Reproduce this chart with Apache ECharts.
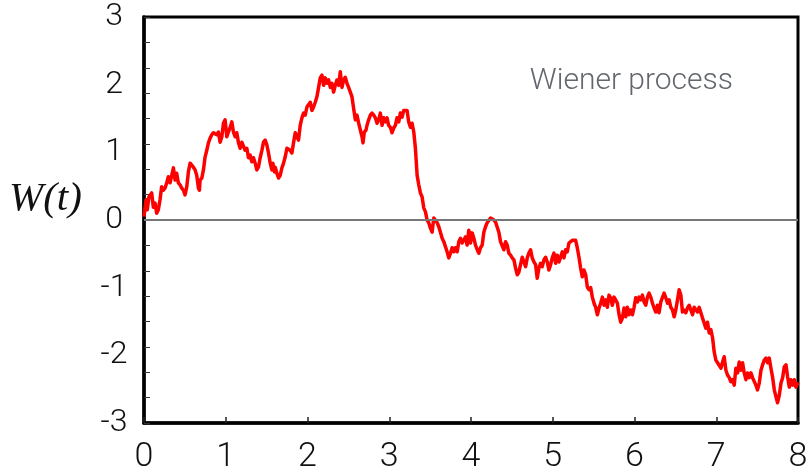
<!DOCTYPE html>
<html>
<head>
<meta charset="utf-8">
<script src="https://cdn.jsdelivr.net/npm/echarts@6/dist/echarts.min.js"></script>
<style>html,body{margin:0;padding:0;background:#fff;}#c{width:806px;height:473px;}</style>
</head>
<body>
<div id="c"></div>
<script>
// x-axis (time t) ticks and y-axis (W) ticks
var xTicks = [0, 1, 2, 3, 4, 5, 6, 7, 8];
var yLabelTicks = [-3, -2, -1, 0, 1, 2, 3];
var yMinorStep = 0.375;
var zeroLevel = [0];

// Wiener path: [t, W(t)]
var path1 = [[0,0.05],[0.025,0.30],[0.04,0.15],[0.06,0.34],[0.094,0.40],[0.114,0.19],[0.135,0.25],[0.155,0.10],[0.175,0.15],[0.196,0.30],[0.216,0.49],[0.237,0.44],[0.257,0.47],[0.278,0.55],[0.298,0.64],[0.319,0.55],[0.339,0.66],[0.36,0.77],[0.38,0.59],[0.40,0.69],[0.42,0.55],[0.441,0.52],[0.462,0.47],[0.482,0.44],[0.502,0.37],[0.523,0.49],[0.543,0.71],[0.564,0.84],[0.584,0.81],[0.604,0.78],[0.625,0.74],[0.645,0.66],[0.666,0.47],[0.678,0.44],[0.686,0.59],[0.707,0.62],[0.727,0.74],[0.747,0.93],[0.768,1.03],[0.788,1.14],[0.809,1.21],[0.829,1.26],[0.849,1.29],[0.87,1.30],[0.89,1.26],[0.91,1.30],[0.931,1.15],[0.952,1.23],[0.972,1.43],[0.992,1.48],[1.013,1.23],[1.033,1.30],[1.054,1.37],[1.074,1.45],[1.094,1.30],[1.115,1.23],[1.135,1.29],[1.156,1.14],[1.176,1.06],[1.197,1.15],[1.217,1.14],[1.237,1.03],[1.258,1.06],[1.278,0.92],[1.299,0.96],[1.319,0.86],[1.339,0.92],[1.36,0.84],[1.38,0.74],[1.40,0.78],[1.421,0.92],[1.442,1.03],[1.462,1.15],[1.482,1.18],[1.503,1.11],[1.523,0.99],[1.544,0.84],[1.564,0.74],[1.576,0.84],[1.597,0.71]];
var path2 = [[1.605,0.78],[1.626,0.69],[1.646,0.62],[1.666,0.66],[1.687,0.77],[1.707,0.84],[1.727,0.93],[1.748,1.06],[1.768,1.08],[1.789,1.03],[1.809,0.99],[1.829,1.14],[1.85,1.29],[1.87,1.30],[1.89,1.18],[1.911,1.40],[1.932,1.51],[1.952,1.58],[1.972,1.55],[1.993,1.67],[2.013,1.65],[2.034,1.74],[2.054,1.62],[2.074,1.67],[2.095,1.74],[2.115,1.82],[2.136,1.96],[2.156,2.10],[2.177,2.14],[2.197,1.99],[2.217,2.10],[2.238,2.02],[2.258,2.07],[2.279,1.96],[2.299,2.02],[2.319,1.89],[2.34,1.99],[2.36,2.07],[2.381,1.99],[2.401,2.19],[2.422,1.96],[2.442,2.07],[2.462,2.11],[2.483,2.02],[2.503,1.96],[2.524,1.89],[2.544,1.82],[2.564,1.65],[2.585,1.48],[2.605,1.55],[2.626,1.43],[2.646,1.45],[2.667,1.23],[2.679,1.14],[2.695,1.30],[2.716,1.33],[2.728,1.40],[2.748,1.48],[2.769,1.55],[2.789,1.58],[2.81,1.55],[2.83,1.51],[2.851,1.43],[2.871,1.48],[2.891,1.58],[2.912,1.40],[2.932,1.51],[2.953,1.45],[2.973,1.51],[2.993,1.40],[3.014,1.37],[3.034,1.29],[3.055,1.36],[3.075,1.40],[3.095,1.51],[3.116,1.45],[3.136,1.58],[3.157,1.52],[3.177,1.62]];
var path3 = [[3.198,1.62],[3.218,1.62],[3.238,1.45],[3.259,1.37],[3.279,1.43],[3.30,1.30],[3.32,1.06],[3.341,0.66],[3.361,0.52],[3.381,0.40],[3.402,0.34],[3.422,0.18],[3.443,0.12],[3.463,0.00],[3.483,-0.04],[3.504,-0.12],[3.524,-0.18],[3.545,0.03],[3.565,0.04],[3.586,-0.04],[3.606,-0.10],[3.626,-0.18],[3.647,-0.27],[3.667,-0.32],[3.688,-0.34],[3.708,-0.47],[3.728,-0.56],[3.749,-0.49],[3.769,-0.41],[3.79,-0.47],[3.81,-0.41],[3.831,-0.47],[3.851,-0.32],[3.871,-0.27],[3.892,-0.34],[3.912,-0.32],[3.933,-0.25],[3.953,-0.37],[3.973,-0.15],[3.994,-0.34],[4.014,-0.19],[4.035,-0.27],[4.055,-0.37],[4.076,-0.44],[4.096,-0.49],[4.116,-0.41],[4.137,-0.37],[4.157,-0.18],[4.178,-0.10],[4.198,-0.04],[4.218,-0.03],[4.239,0.03],[4.259,0.04],[4.28,0.00],[4.30,-0.03],[4.321,-0.04],[4.341,-0.18],[4.361,-0.32],[4.382,-0.30],[4.402,-0.44],[4.423,-0.32],[4.443,-0.37],[4.463,-0.49],[4.484,-0.52],[4.504,-0.56],[4.525,-0.59],[4.545,-0.71],[4.566,-0.81],[4.586,-0.77],[4.606,-0.66],[4.627,-0.55],[4.647,-0.56],[4.668,-0.69],[4.688,-0.56],[4.708,-0.49],[4.729,-0.44],[4.749,-0.56],[4.77,-0.62],[4.79,-0.66]];
var path4 = [[4.81,-0.86],[4.831,-0.71],[4.851,-0.64],[4.872,-0.69],[4.892,-0.59],[4.913,-0.55],[4.933,-0.62],[4.953,-0.74],[4.974,-0.66],[4.994,-0.56],[5.015,-0.49],[5.035,-0.64],[5.056,-0.52],[5.076,-0.62],[5.096,-0.55],[5.117,-0.47],[5.137,-0.56],[5.158,-0.44],[5.178,-0.47],[5.198,-0.34],[5.219,-0.32],[5.239,-0.30],[5.26,-0.32],[5.28,-0.30],[5.30,-0.41],[5.321,-0.55],[5.341,-0.71],[5.362,-0.84],[5.382,-0.74],[5.403,-0.81],[5.423,-0.99],[5.443,-1.03],[5.464,-1.00],[5.484,-1.14],[5.505,-1.23],[5.525,-1.29],[5.546,-1.40],[5.566,-1.30],[5.586,-1.23],[5.607,-1.14],[5.627,-1.26],[5.648,-1.18],[5.668,-1.29],[5.688,-1.11],[5.709,-1.15],[5.729,-1.26],[5.75,-1.14],[5.77,-1.18],[5.791,-1.23],[5.811,-1.40],[5.831,-1.51],[5.852,-1.45],[5.872,-1.30],[5.893,-1.43],[5.913,-1.29],[5.933,-1.40],[5.954,-1.33],[5.975,-1.40],[5.995,-1.29],[6.015,-1.15],[6.036,-1.21],[6.056,-1.14],[6.077,-1.18],[6.097,-1.11],[6.117,-1.21],[6.138,-1.26],[6.158,-1.14],[6.178,-1.08],[6.199,-1.14],[6.22,-1.23],[6.24,-1.30],[6.26,-1.36],[6.281,-1.26],[6.30,-1.37],[6.322,-1.21],[6.342,-1.23],[6.362,-1.08]];
var path5 = [[6.383,-1.15],[6.404,-1.23],[6.424,-1.18],[6.444,-1.29],[6.465,-1.33],[6.485,-1.43],[6.505,-1.33],[6.526,-1.18],[6.546,-1.03],[6.567,-1.11],[6.587,-1.36],[6.607,-1.33],[6.628,-1.37],[6.648,-1.30],[6.669,-1.26],[6.689,-1.33],[6.71,-1.40],[6.73,-1.29],[6.75,-1.29],[6.771,-1.36],[6.791,-1.29],[6.812,-1.37],[6.832,-1.45],[6.852,-1.52],[6.873,-1.60],[6.893,-1.51],[6.914,-1.67],[6.934,-1.62],[6.955,-1.74],[6.975,-1.95],[6.995,-2.07],[7.016,-2.11],[7.036,-2.10],[7.057,-2.19],[7.077,-2.10],[7.097,-2.02],[7.118,-2.22],[7.138,-2.29],[7.159,-2.33],[7.179,-2.39],[7.199,-2.36],[7.22,-2.44],[7.24,-2.19],[7.261,-2.26],[7.281,-2.10],[7.301,-2.22],[7.322,-2.11],[7.342,-2.26],[7.363,-2.36],[7.383,-2.26],[7.403,-2.33],[7.424,-2.26],[7.444,-2.33],[7.465,-2.32],[7.485,-2.44],[7.505,-2.51],[7.526,-2.41],[7.547,-2.22],[7.567,-2.14],[7.587,-2.07],[7.608,-2.04],[7.628,-2.11],[7.648,-2.04],[7.669,-2.19],[7.69,-2.33],[7.71,-2.51],[7.73,-2.61],[7.75,-2.70],[7.771,-2.59],[7.792,-2.41],[7.812,-2.33],[7.832,-2.17],[7.853,-2.14],[7.873,-2.32],[7.894,-2.47],[7.914,-2.36],[7.934,-2.44],[7.955,-2.36],[7.975,-2.47],[8.0,-2.40]];

var seriesName = 'Wiener process';
var yName = 'W(t)';

var pathData = path1.concat(path2, path3, path4, path5);
var labelFont = 'Roboto, "Liberation Sans", sans-serif';

var chart = echarts.init(document.getElementById('c'), null, {renderer: 'canvas'});
chart.setOption({
  animation: false,
  backgroundColor: '#ffffff',
  grid: {left: 144, right: 8, top: 17, bottom: 50, show: true, borderColor: '#000', borderWidth: 3, outerBoundsMode: 'none', containLabel: false},
  xAxis: {
    type: 'value', min: xTicks[0], max: xTicks[xTicks.length - 1], interval: 1,
    axisLine: {show: true, onZero: false, lineStyle: {color: '#000', width: 3.5}},
    axisTick: {show: true, inside: true, length: 6, lineStyle: {color: '#222', width: 1.5}},
    axisLabel: {fontSize: 34, color: '#111', margin: 17, fontFamily: labelFont, fontWeight: 300},
    splitLine: {show: false}
  },
  yAxis: [{
    type: 'value', min: yLabelTicks[0], max: yLabelTicks[yLabelTicks.length - 1], interval: yMinorStep,
    axisLine: {show: true, onZero: false, lineStyle: {color: '#000', width: 3.5}},
    axisTick: {show: true, inside: true, length: 6, lineStyle: {color: '#333', width: 1}},
    axisLabel: {show: false},
    splitLine: {show: false}
  }, {
    type: 'value', position: 'left', min: yLabelTicks[0], max: yLabelTicks[yLabelTicks.length - 1], interval: 1,
    axisLine: {show: false}, axisTick: {show: false},
    axisLabel: {fontSize: 32, color: '#111', margin: 30, align: 'center', fontFamily: labelFont, fontWeight: 300},
    splitLine: {show: false}
  }],
  graphic: [{
    type: 'text', left: 9, top: 179, z: 10,
    style: {text: yName, fontFamily: '"Liberation Serif", "DejaVu Serif", serif', fontStyle: 'italic', fontSize: 41, fill: '#111'}
  }, {
    type: 'text', right: 806 - 733, top: 66, z: 10,
    style: {text: seriesName, fontFamily: labelFont, fontWeight: 300, fontSize: 30, fill: '#63666c'}
  }],
  series: [{
    name: seriesName, type: 'line', data: pathData, xAxisIndex: 0, yAxisIndex: 0,
    showSymbol: false, symbol: 'none', z: 2,
    lineStyle: {color: '#ff0000', width: 3.5, join: 'round'}
  }, {
    type: 'line', data: [], xAxisIndex: 0, yAxisIndex: 0, z: 5,
    markLine: {silent: true, symbol: 'none', label: {show: false},
      lineStyle: {color: '#777777', width: 2, type: 'solid'},
      data: zeroLevel.map(function (v) { return {yAxis: v}; })}
  }]
});
</script>
</body>
</html>
